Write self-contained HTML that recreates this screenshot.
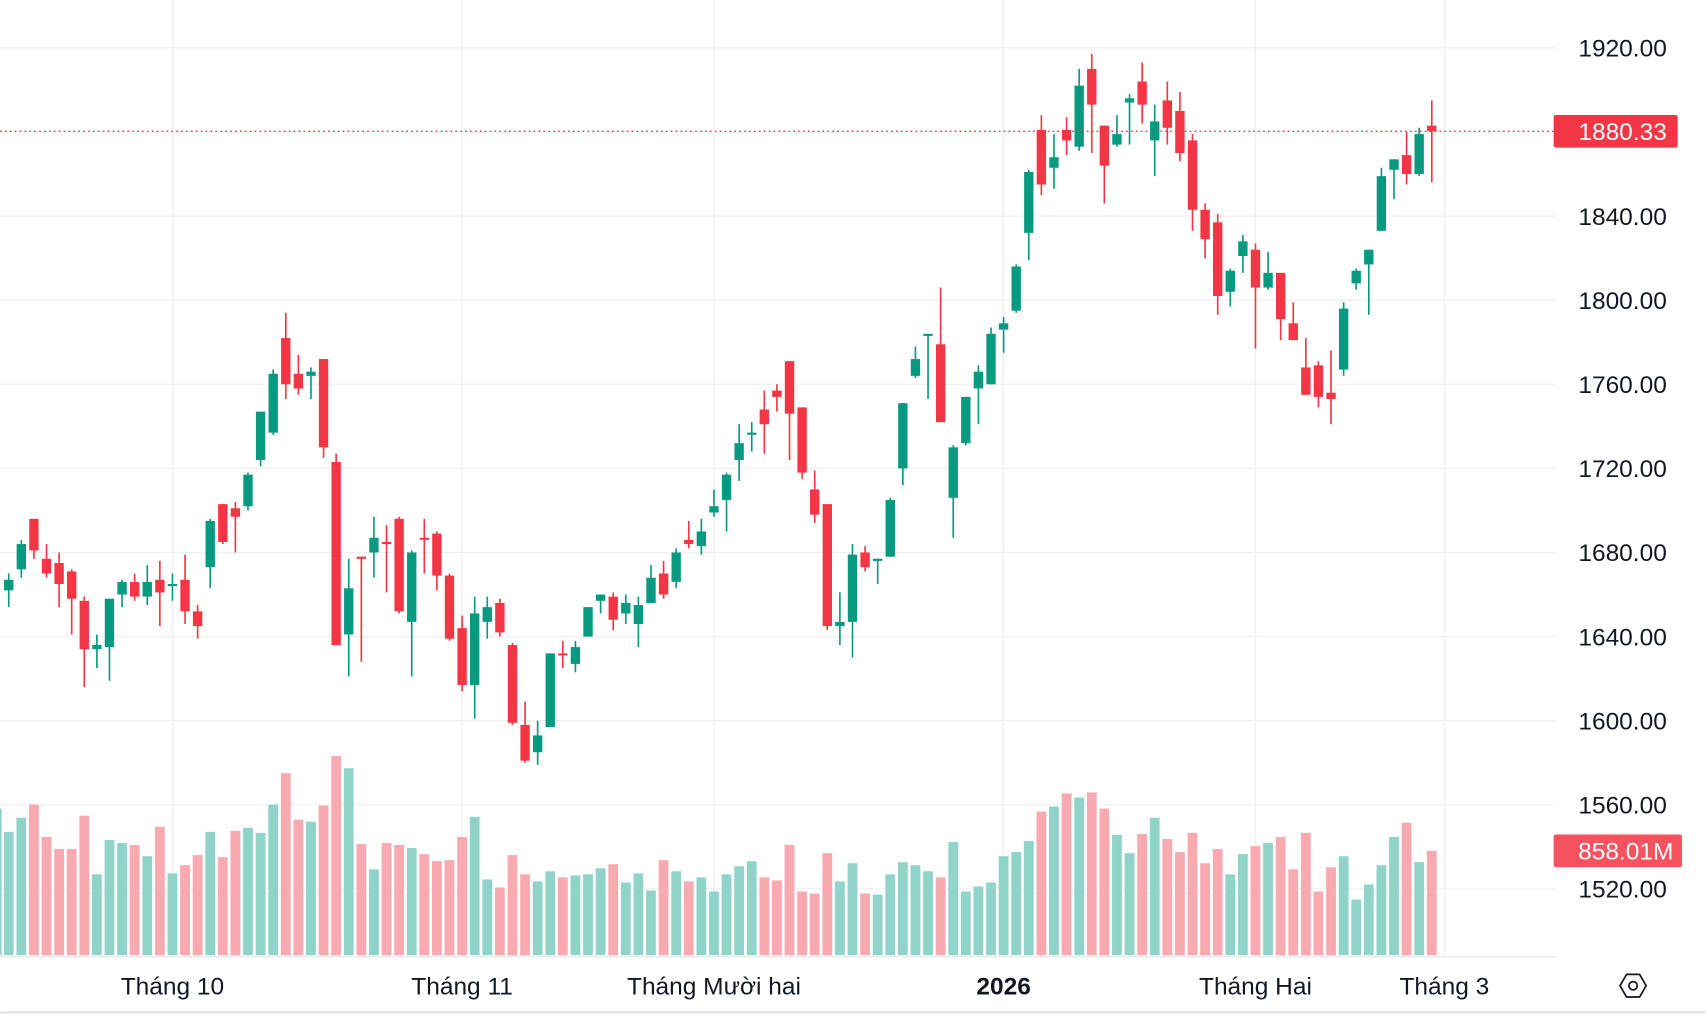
<!DOCTYPE html>
<html><head><meta charset="utf-8">
<style>
html,body{margin:0;padding:0;background:#fff;overflow:hidden}
svg{display:block}
text{font-family:"Liberation Sans",sans-serif}
</style></head>
<body>
<svg id="chart" width="1706" height="1014" viewBox="0 0 1568 932" xmlns="http://www.w3.org/2000/svg">
<g id="grid"></g>
<g id="vol"></g>
<g id="candles"></g>
<g id="yaxis"></g>
<g id="xaxis"></g>
</svg>
<script>
const opens=[1662,1672,1696,1677,1675,1671,1657,1634,1635,1660,1666,1659,1667,1664,1667,1652,1673,1703,1701,1702,1724,1737,1782,1765,1764,1772,1723,1641,1678,1680,1685,1696,1647,1687,1689,1669,1644,1617,1647,1656,1636,1598,1585,1597,1632,1627,1640,1657,1659,1651,1646,1656,1670,1666,1686,1683,1699,1705,1724,1736,1748,1757,1771,1749,1710,1703,1645,1647,1680,1676,1678,1720,1764,1783,1779,1706,1732,1758,1760,1786,1795,1832,1881,1863,1881,1873,1910,1883,1874,1894,1904,1876,1895,1890,1876,1843,1837,1804,1821,1824,1806,1813,1789,1768,1769,1756,1767,1808,1817,1833,1862,1869,1860,1883];
const highs=[1670,1686,1696,1684,1680,1672,1659,1641,1658,1667,1670,1674,1676,1670,1679,1655,1696,1703,1704,1718,1747,1767,1794,1774,1768,1772,1727,1677,1678,1697,1693,1697,1681,1696,1690,1670,1650,1659,1659,1658,1637,1609,1600,1632,1638,1638,1654,1660,1661,1660,1659,1674,1676,1682,1695,1696,1710,1718,1741,1742,1757,1760,1771,1749,1719,1703,1661,1684,1683,1677,1706,1751,1778,1784,1806,1731,1754,1769,1787,1792,1817,1862,1888,1879,1887,1910,1917,1883,1888,1898,1913,1893,1904,1899,1879,1846,1841,1815,1831,1827,1823,1813,1799,1782,1771,1776,1799,1815,1824,1863,1867,1880,1882,1895];
const lows=[1654,1668,1677,1668,1654,1641,1616,1625,1619,1654,1657,1655,1645,1657,1646,1639,1663,1684,1680,1700,1721,1736,1753,1755,1753,1725,1636,1621,1628,1668,1661,1651,1621,1670,1662,1638,1614,1601,1639,1640,1598,1580,1579,1597,1625,1623,1640,1651,1643,1646,1635,1656,1658,1663,1682,1679,1697,1690,1714,1728,1727,1747,1724,1715,1694,1643,1636,1630,1671,1665,1678,1712,1763,1753,1742,1687,1731,1741,1760,1775,1794,1819,1850,1853,1869,1871,1870,1846,1873,1874,1884,1859,1874,1866,1833,1820,1793,1797,1813,1777,1805,1781,1781,1755,1749,1741,1764,1805,1793,1833,1848,1855,1859,1856];
const closes=[1667,1684,1681,1670,1665,1658,1634,1636,1658,1666,1659,1666,1661,1665,1652,1645,1695,1685,1697,1717,1747,1765,1760,1758,1766,1730,1636,1663,1677,1687,1684,1652,1680,1686,1669,1639,1617,1651,1654,1642,1599,1581,1593,1632,1631,1635,1654,1660,1648,1656,1655,1668,1660,1680,1684,1690,1702,1717,1732,1737,1741,1754,1746,1718,1698,1645,1647,1679,1673,1677,1705,1751,1772,1784,1742,1730,1754,1766,1784,1789,1816,1861,1855,1868,1876,1902,1893,1864,1879,1896,1893,1885,1882,1870,1843,1829,1802,1814,1828,1806,1813,1791,1781,1755,1754,1753,1796,1814,1824,1859,1867,1860,1879,1880.33];
const volumes=[1014,1130,1238,972,873,873,1147,665,947,922,906,814,1055,673,740,823,1014,806,1022,1047,1006,1238,1496,1114,1097,1230,1637,1537,914,706,922,906,881,831,773,781,972,1138,623,557,823,665,607,690,640,656,665,715,748,598,673,532,781,690,607,640,524,665,731,773,640,615,906,524,507,839,607,756,507,499,665,765,740,690,640,931,524,565,598,814,848,939,1180,1222,1330,1296,1338,1205,989,839,997,1130,956,848,1006,756,873,665,831,897,922,972,706,1006,524,723,814,457,582,740,972,1089,765,858.01];
const prevVolume=1205;
const priceTicks=[1520,1560,1600,1640,1680,1720,1760,1800,1840,1880,1920];
const monthLabels=["Tháng 10","Tháng 11","Tháng Mười hai","2026","Tháng Hai","Tháng 3"];
const monthIndex=[13,36,56,79,99,114];
const lastPrice=1880.33;
const lastVolume="858.01M";

const NS="http://www.w3.org/2000/svg";
const PLOT_R=1430;
function xs(i){return 8+i*11.575;}
function ys(p){return 44+(1920-p)*1.9325;}
function vh(v){return v/8.94;}
const VOL_BASE=878;
const UP="#089981",DN="#f23645",VUP="#90d4c9",VDN="#f9a9b0";
const FS=22.5;
function mk(tag,attrs,parent){const e=document.createElementNS(NS,tag);for(const k in attrs)e.setAttribute(k,attrs[k]);parent.appendChild(e);return e;}

const grid=document.getElementById('grid');
priceTicks.forEach(p=>{
  const l=mk('line',{x1:0,x2:PLOT_R,y1:ys(p),y2:ys(p),stroke:'#f0f0f0','stroke-width':1.2},grid);
  
  
});
monthIndex.forEach(i=>{
  const l=mk('line',{x1:xs(i),x2:xs(i),y1:0,y2:880,stroke:'#f0f0f0','stroke-width':1.2},grid);
  
  
});

const vol=document.getElementById('vol');
{
  const r=mk('rect',{x:-7.5,y:VOL_BASE-vh(prevVolume),width:9,height:vh(prevVolume),fill:VUP},vol);
  
  
}
volumes.forEach((v,i)=>{
  const up=closes[i]>=opens[i];
  const r=mk('rect',{x:xs(i)-4.5,y:VOL_BASE-vh(v),width:9,height:vh(v),fill:up?VUP:VDN},vol);
  
  
});

const cg=document.getElementById('candles');
opens.forEach((o,i)=>{
  const c=closes[i],up=c>=o,col=up?UP:DN,x=xs(i);
  const w=mk('line',{x1:x,x2:x,y1:ys(highs[i]),y2:ys(lows[i]),stroke:col,'stroke-width':1.5},cg);
  
  
  const top=ys(Math.max(o,c)),bot=ys(Math.min(o,c));
  const b=mk('rect',{x:x-4.3,y:top,width:8.6,height:Math.max(1.5,bot-top),fill:col},cg);
  
  
});
{
  const l=mk('line',{x1:0,x2:1428,y1:ys(lastPrice),y2:ys(lastPrice),stroke:DN,'stroke-width':1.3,'stroke-dasharray':'1.5 3'},cg);
  
  
}

const ya=document.getElementById('yaxis');
priceTicks.forEach(p=>{
  const t=mk('text',{x:1532,y:ys(p)+8,'text-anchor':'end','font-size':FS,fill:'#131722'},ya);
  t.textContent=p.toFixed(2);
  
  
});
{
  const r=mk('rect',{x:1428,y:ys(lastPrice)-15,width:114,height:30,rx:2,fill:DN},ya);
  
  
  const t=mk('text',{x:1532,y:ys(lastPrice)+8,'text-anchor':'end','font-size':FS,fill:'#fff'},ya);
  t.textContent=lastPrice.toFixed(2);
  
  
  const vy=VOL_BASE-vh(858.01);
  const r2=mk('rect',{x:1428,y:vy-15,width:118,height:30,rx:2,fill:'#f7525f'},ya);
  
  
  const t2=mk('text',{x:1538,y:vy+8,'text-anchor':'end','font-size':FS,fill:'#fff'},ya);
  t2.textContent=lastVolume;
  
  
}

const xa=document.getElementById('xaxis');
{
  const l=mk('line',{x1:0,x2:1430,y1:879.5,y2:879.5,stroke:'#e0e3eb','stroke-width':1},xa);
  
  
  const l2=mk('line',{x1:0,x2:1568,y1:930.5,y2:930.5,stroke:'#e0e3eb','stroke-width':2},xa);
  
  
}
monthLabels.forEach((m,k)=>{
  const bold=m==="2026";
  const t=mk('text',{x:xs(monthIndex[k]),y:914,'text-anchor':'middle','font-size':FS,fill:'#131722','font-weight':bold?'bold':'normal'},xa);
  t.textContent=m;
  
  
});
{
  const g=mk('g',{transform:'translate(1501,906)'},xa);
  
  
  mk('polygon',{points:'-12,0 -6,-10.4 6,-10.4 12,0 6,10.4 -6,10.4',fill:'none',stroke:'#131722','stroke-width':1.6,'stroke-linejoin':'round'},g);
  mk('circle',{cx:0,cy:0,r:3.8,fill:'none',stroke:'#131722','stroke-width':1.6},g);
}
</script>
</body></html>
